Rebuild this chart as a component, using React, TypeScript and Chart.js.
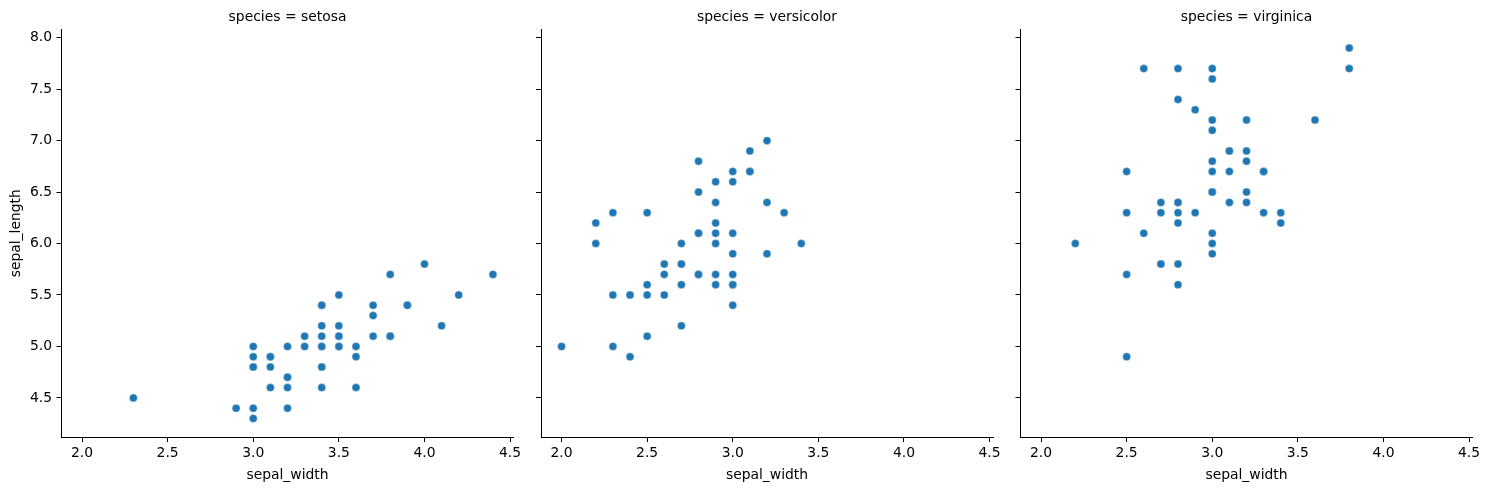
import React, { useEffect, useRef } from 'react';
import { Chart, registerables } from 'chart.js';

Chart.register(...registerables);

const SPECIES = ['setosa', 'versicolor', 'virginica'];

const X_TICKS = [2.0, 2.5, 3.0, 3.5, 4.0, 4.5];
const Y_TICKS = [4.5, 5.0, 5.5, 6.0, 6.5, 7.0, 7.5, 8.0];

const setosaWidth = [3.5, 3.0, 3.2, 3.1, 3.6, 3.9, 3.4, 3.4, 2.9, 3.1, 3.7, 3.4, 3.0, 3.0, 4.0, 4.4, 3.9, 3.5, 3.8, 3.8, 3.4, 3.7, 3.6, 3.3, 3.4, 3.0, 3.4, 3.5, 3.4, 3.2, 3.1, 3.4, 4.1, 4.2, 3.1, 3.2, 3.5, 3.6, 3.0, 3.4, 3.5, 2.3, 3.2, 3.5, 3.8, 3.0, 3.8, 3.2, 3.7, 3.3];
const setosaLength = [5.1, 4.9, 4.7, 4.6, 5.0, 5.4, 4.6, 5.0, 4.4, 4.9, 5.4, 4.8, 4.8, 4.3, 5.8, 5.7, 5.4, 5.1, 5.7, 5.1, 5.4, 5.1, 4.6, 5.1, 4.8, 5.0, 5.0, 5.2, 5.2, 4.7, 4.8, 5.4, 5.2, 5.5, 4.9, 5.0, 5.5, 4.9, 4.4, 5.1, 5.0, 4.5, 4.4, 5.0, 5.1, 4.8, 5.1, 4.6, 5.3, 5.0];

const versicolorWidth = [3.2, 3.2, 3.1, 2.3, 2.8, 2.8, 3.3, 2.4, 2.9, 2.7, 2.0, 3.0, 2.2, 2.9, 2.9, 3.1, 3.0, 2.7, 2.2, 2.5, 3.2, 2.8, 2.5, 2.8, 2.9, 3.0, 2.8, 3.0, 2.9, 2.6, 2.4, 2.4, 2.7, 2.7, 3.0, 3.4, 3.1, 2.3, 3.0, 2.5, 2.6, 3.0, 2.6, 2.3, 2.7, 3.0, 2.9, 2.9, 2.5, 2.8];
const versicolorLength = [7.0, 6.4, 6.9, 5.5, 6.5, 5.7, 6.3, 4.9, 6.6, 5.2, 5.0, 5.9, 6.0, 6.1, 5.6, 6.7, 5.6, 5.8, 6.2, 5.6, 5.9, 6.1, 6.3, 6.1, 6.4, 6.6, 6.8, 6.7, 6.0, 5.7, 5.5, 5.5, 5.8, 6.0, 5.4, 6.0, 6.7, 6.3, 5.6, 5.5, 5.5, 6.1, 5.8, 5.0, 5.6, 5.7, 5.7, 6.2, 5.1, 5.7];

const virginicaWidth = [3.3, 2.7, 3.0, 2.9, 3.0, 3.0, 2.5, 2.9, 2.5, 3.6, 3.2, 2.7, 3.0, 2.5, 2.8, 3.2, 3.0, 3.8, 2.6, 2.2, 3.2, 2.8, 2.8, 2.7, 3.3, 3.2, 2.8, 3.0, 2.8, 3.0, 2.8, 3.8, 2.8, 2.8, 2.6, 3.0, 3.4, 3.1, 3.0, 3.1, 3.1, 3.1, 2.7, 3.2, 3.3, 3.0, 2.5, 3.0, 3.4, 3.0];
const virginicaLength = [6.3, 5.8, 7.1, 6.3, 6.5, 7.6, 4.9, 7.3, 6.7, 7.2, 6.5, 6.4, 6.8, 5.7, 5.8, 6.4, 6.5, 7.7, 7.7, 6.0, 6.9, 5.6, 7.7, 6.3, 6.7, 7.2, 6.2, 6.1, 6.4, 7.2, 7.4, 7.9, 6.4, 6.3, 6.1, 7.7, 6.3, 6.4, 6.0, 6.9, 6.7, 6.9, 5.8, 6.8, 6.7, 6.7, 6.3, 6.5, 6.2, 5.9];

const WIDTHS = [setosaWidth, versicolorWidth, virginicaWidth];
const LENGTHS = [setosaLength, versicolorLength, virginicaLength];

const W = 1490;
const H = 490;
const PANEL_LEFT = [61.5, 541, 1020.5];
const PANEL_WIDTH = 452;
const PLOT_TOP = 29.5;
const X_AXIS_H = 53;
const FONT = { family: 'DejaVu Sans', size: 13.9 };

function facetTitlePlugin(text: string) {
  return {
    id: 'facetTitle',
    afterDraw(chart: any) {
      const { ctx, chartArea } = chart;
      ctx.save();
      ctx.font = '13.9px "DejaVu Sans"';
      ctx.fillStyle = '#000';
      ctx.textAlign = 'center';
      ctx.textBaseline = 'alphabetic';
      ctx.fillText(text, (chartArea.left + chartArea.right) / 2, chartArea.top - 9);
      ctx.restore();
    },
  };
}

function Panel({ index }: { index: number }) {
  const ref = useRef<HTMLCanvasElement | null>(null);
  useEffect(() => {
    if (!ref.current) return;
    const first = index === 0;
    const yW = first ? 61.5 : 20;
    const points = WIDTHS[index].map((x, j) => ({ x, y: LENGTHS[index][j] }));
    const chart = new Chart(ref.current, {
      type: 'scatter',
      data: {
        datasets: [
          {
            data: points,
            backgroundColor: '#1f77b4',
            borderColor: '#ffffff',
            borderWidth: 0.4,
            pointRadius: 4,
            pointHoverRadius: 4,
          },
        ],
      },
      options: {
        responsive: false,
        animation: false,
        devicePixelRatio: 1,
        events: [],
        layout: {
          padding: {
            left: PANEL_LEFT[index] - yW,
            right: W - PANEL_LEFT[index] - PANEL_WIDTH,
            top: PLOT_TOP,
            bottom: 0,
          },
        },
        plugins: {
          legend: { display: false },
          tooltip: { enabled: false },
          title: { display: false },
        },
        scales: {
          x: {
            type: 'linear',
            position: 'bottom',
            min: 1.88,
            max: 4.52,
            afterFit: (s: any) => {
              s.height = X_AXIS_H;
            },
            afterBuildTicks: (s: any) => {
              s.ticks = X_TICKS.map((v) => ({ value: v }));
            },
            grid: { display: true, drawOnChartArea: false, drawTicks: true, tickLength: 5, color: '#000', lineWidth: 1 },
            border: { display: true, color: '#000', width: 1 },
            ticks: {
              font: FONT,
              color: '#000',
              padding: 3,
              maxRotation: 0,
              autoSkip: false,
              callback: (v: any) => Number(v).toFixed(1),
            },
            title: { display: true, text: 'sepal_width', font: FONT, color: '#000', padding: { top: 0, bottom: 6.7 } },
          },
          y: {
            type: 'linear',
            position: 'left',
            min: 4.12,
            max: 8.08,
            afterFit: (s: any) => {
              s.width = yW;
            },
            afterBuildTicks: (s: any) => {
              s.ticks = Y_TICKS.map((v) => ({ value: v }));
            },
            grid: { display: true, drawOnChartArea: false, drawTicks: true, tickLength: 5, color: '#000', lineWidth: 1 },
            border: { display: true, color: '#000', width: 1 },
            ticks: {
              font: FONT,
              color: first ? '#000' : 'rgba(0,0,0,0)',
              padding: 4.5,
              autoSkip: false,
              callback: (v: any) => Number(v).toFixed(1),
            },
            title: { display: first, text: 'sepal_length', font: FONT, color: '#000', padding: { top: 8.5, bottom: 0 } },
          },
        },
      },
      plugins: [facetTitlePlugin(`species = ${SPECIES[index]}`)],
    });
    return () => chart.destroy();
  }, [index]);
  return (
    <canvas
      ref={ref}
      width={W}
      height={H}
      style={{ position: 'absolute', left: 0, top: 0, width: W, height: H }}
    />
  );
}

export default function App() {
  useEffect(() => {
    document.body.style.margin = '0';
  }, []);
  return (
    <div style={{ position: 'absolute', left: 0, top: 0, width: W, height: H, background: '#fff' }}>
      {SPECIES.map((_, i) => (
        <Panel key={i} index={i} />
      ))}
    </div>
  );
}
